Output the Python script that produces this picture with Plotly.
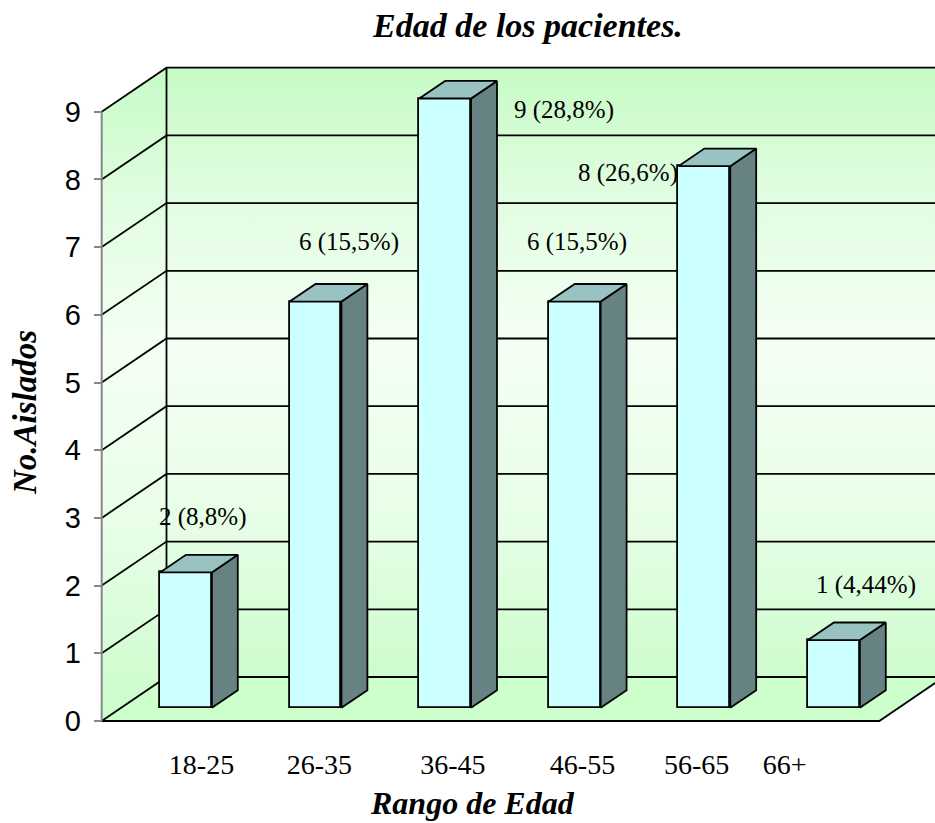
import plotly.graph_objects as go

# ---------------- data ----------------
categories = ["18-25", "26-35", "36-45", "46-55", "56-65", "66+"]
counts = [2, 6, 9, 6, 8, 1]
percent_labels = ["8,8%", "15,5%", "28,8%", "15,5%", "26,6%", "4,44%"]
y_ticks = [0, 1, 2, 3, 4, 5, 6, 7, 8, 9]
y_max = 9

# ---------------- layout / style helpers ----------------
W, H = 935, 823
ML, MR, MT, MB = 95, 0, 55, 97
PXU, PXV = 129.6, 67.7          # pixels per category / per unit value
X0PX, Y0PX = 166.5, 721.0        # pixel position of category 0 / value 0 (front plane)
DX, DY = 0.5, 0.65               # depth offset (axis units)
BW = 0.4                         # bar width
FRONT, BACK = 0.3, 0.7           # bar depth span (fraction)
# manual placement tweaks (relative to bar index / value) for labels
label_dx = [0.28, 0.41, 1.07, 0.17, -0.44, 0.40]
label_dy = [1.01, 1.07, 0.02, 1.07, 0.09, 1.01]
tick_shift = [0.27, 0.18, 0.21, 0.21, 0.09, -0.23]

SERIF = "Liberation Serif, Times New Roman, serif"
SANS = "Liberation Sans, Arial, sans-serif"
LINE = "#000000"
LW = 1.8

xr = [(ML - X0PX) / PXU, (W - MR - X0PX) / PXU]
yr = [(Y0PX - (H - MB)) / PXV, (Y0PX - MT) / PXV]
n = len(categories)
left, right = -0.5, n - 0.5
top = y_max


def px_paper(X, Y):
    return (X - ML) / (W - ML - MR), (H - MB - Y) / (H - MT - MB)


wall_scale = [[0.0, "#cdfccd"], [0.25, "#e6fee6"], [0.55, "#f4fff4"],
              [0.8, "#e0fde0"], [1.0, "#c6fbc6"]]

fig = go.Figure()

# back wall
fig.add_trace(go.Scatter(
    x=[left + DX, right + DX, right + DX, left + DX, left + DX],
    y=[DY, DY, top + DY, top + DY, DY],
    mode="lines", line=dict(width=0), fill="toself",
    fillgradient=dict(type="vertical", colorscale=wall_scale, start=DY, stop=top + DY),
    hoverinfo="skip", showlegend=False, xaxis="x", yaxis="y"))
# left wall
fig.add_trace(go.Scatter(
    x=[left, left, left + DX, left + DX, left],
    y=[0, top, top + DY, DY, 0],
    mode="lines", line=dict(width=0), fill="toself",
    fillgradient=dict(type="vertical", colorscale=wall_scale, start=0.3, stop=top + DY),
    hoverinfo="skip", showlegend=False, xaxis="x", yaxis="y"))
# floor
fig.add_trace(go.Scatter(
    x=[left, right, right + DX, left + DX, left],
    y=[0, 0, DY, DY, 0],
    mode="lines", line=dict(width=0), fill="toself", fillcolor="#ccffcc",
    hoverinfo="skip", showlegend=False, xaxis="x", yaxis="y"))

# gridlines on walls
gx, gy = [], []
for v in y_ticks:
    gx += [left, left + DX, right + DX, None]
    gy += [v, v + DY, v + DY, None]
gx += [left + DX, left + DX, None, left, right, right + DX]
gy += [DY, top + DY, None, 0, 0, DY]
fig.add_trace(go.Scatter(x=gx, y=gy, mode="lines", line=dict(color=LINE, width=LW),
                         hoverinfo="skip", showlegend=False, xaxis="x", yaxis="y"))
# value axis line (gray)
fig.add_trace(go.Scatter(x=[left, left], y=[0, top], mode="lines",
                         line=dict(color="#868686", width=2),
                         hoverinfo="skip", showlegend=False, xaxis="x", yaxis="y"))

# ---------------- bars (overlay axes, drawn above walls) ----------------
xs = list(range(n))
fig.add_trace(go.Bar(
    x=[i + FRONT * DX for i in xs], y=counts, base=FRONT * DY, width=BW,
    marker=dict(color="#ccffff", line=dict(color=LINE, width=LW)),
    hoverinfo="skip", showlegend=False, xaxis="x2", yaxis="y2"))

sx, sy, tx, ty = [], [], [], []
for i, v in zip(xs, counts):
    r0 = i + BW / 2
    l0 = i - BW / 2
    sx += [r0 + FRONT * DX, r0 + FRONT * DX, r0 + BACK * DX, r0 + BACK * DX, r0 + FRONT * DX, None]
    sy += [FRONT * DY, v + FRONT * DY, v + BACK * DY, BACK * DY, FRONT * DY, None]
    tx += [l0 + FRONT * DX, r0 + FRONT * DX, r0 + BACK * DX, l0 + BACK * DX, l0 + FRONT * DX, None]
    ty += [v + FRONT * DY, v + FRONT * DY, v + BACK * DY, v + BACK * DY, v + FRONT * DY, None]
fig.add_trace(go.Scatter(x=sx, y=sy, mode="lines", fill="toself", fillcolor="#668282",
                         line=dict(color=LINE, width=LW), hoverinfo="skip",
                         showlegend=False, xaxis="x2", yaxis="y2"))
fig.add_trace(go.Scatter(x=tx, y=ty, mode="lines", fill="toself", fillcolor="#99c2c2",
                         line=dict(color=LINE, width=LW), hoverinfo="skip",
                         showlegend=False, xaxis="x2", yaxis="y2"))

annotations = []
for i, (v, p) in enumerate(zip(counts, percent_labels)):
    annotations.append(dict(
        x=i + label_dx[i], y=v + label_dy[i], xref="x2", yref="y2",
        text=f"{v} ({p})", showarrow=False,
        font=dict(family=SERIF, size=25, color="#000000"),
        xanchor="center", yanchor="middle"))

ax_x, ax_y = px_paper(25, 413)
annotations.append(dict(x=ax_x, y=ax_y, xref="paper", yref="paper",
                        text="<b><i>No.Aislados</i></b>", textangle=-90, showarrow=False,
                        font=dict(family=SERIF, size=33, color="#000000"),
                        xanchor="center", yanchor="middle"))
bx, by = px_paper(472.5, 803)
annotations.append(dict(x=bx, y=by, xref="paper", yref="paper",
                        text="<b><i>Rango de Edad</i></b>", showarrow=False,
                        font=dict(family=SERIF, size=32, color="#000000"),
                        xanchor="center", yanchor="middle"))

axis_pos = (X0PX + left * PXU - ML) / (W - ML - MR)

fig.update_layout(
    width=W, height=H,
    margin=dict(l=ML, r=MR, t=MT, b=MB, pad=0),
    paper_bgcolor="#ffffff", plot_bgcolor="rgba(0,0,0,0)",
    title=dict(text="<b><i>Edad de los pacientes.</i></b>",
               font=dict(family=SERIF, size=34, color="#000000"),
               x=528 / W, xref="container", xanchor="center",
               y=1 - 25 / H, yref="container", yanchor="middle"),
    xaxis=dict(range=xr, showgrid=False, zeroline=False, showline=False,
               tickmode="array", tickvals=[i + tick_shift[i] for i in xs],
               ticktext=categories, ticks="", ticklabelstandoff=19,
               tickfont=dict(family=SERIF, size=28, color="#000000"), fixedrange=True),
    yaxis=dict(range=yr, showgrid=False, zeroline=False, showline=False,
               anchor="free", position=axis_pos,
               tickmode="array", tickvals=y_ticks, ticks="outside", ticklen=8,
               tickwidth=2, tickcolor="#868686", ticklabelstandoff=7,
               tickfont=dict(family=SANS, size=29, color="#000000"), fixedrange=True),
    xaxis2=dict(range=xr, overlaying="x", visible=False, fixedrange=True),
    yaxis2=dict(range=yr, overlaying="y", visible=False, fixedrange=True),
    annotations=annotations,
    bargap=0,
)

fig.write_html("out.html")
